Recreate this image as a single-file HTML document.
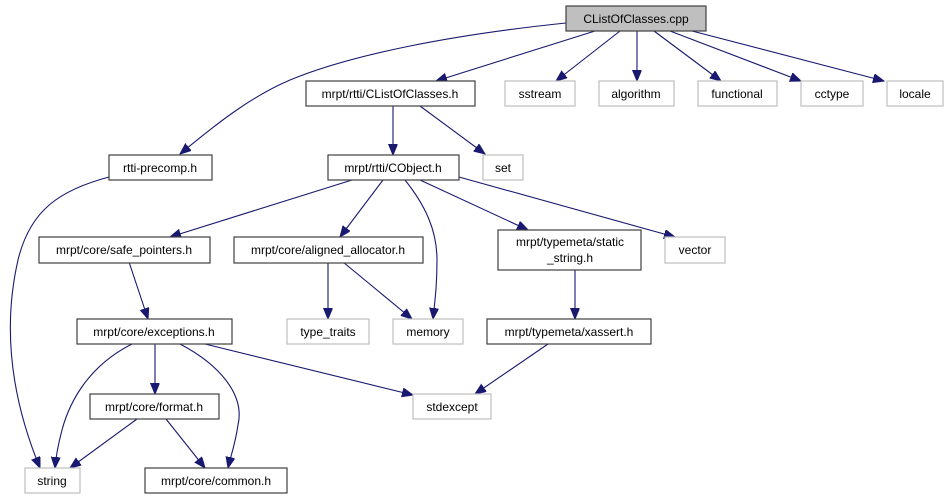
<!DOCTYPE html>
<html><head><meta charset="utf-8"><style>
html,body{margin:0;padding:0;background:#fff;}
svg{display:block;}
text{font-family:"Liberation Sans",sans-serif;font-size:12px;fill:#000;text-anchor:middle;}
.n rect{fill:#fff;stroke:#404040;stroke-width:1.2;}
.g rect{fill:#fff;stroke:#bfbfbf;stroke-width:1.2;}
path.e{fill:none;stroke:#191970;stroke-width:1.1;marker-end:url(#a);}
</style></head><body>
<svg width="949" height="500" viewBox="0 0 949 500" xmlns="http://www.w3.org/2000/svg">
<defs><marker id="a" markerUnits="userSpaceOnUse" markerWidth="12" markerHeight="10" refX="11" refY="4.5" orient="auto"><path d="M0,0 L11,4.5 L0,9 z" fill="#191970" stroke="#191970"/></marker></defs>
<path class="e" d="M566,23 C450,35 350,55 290,80 C250,97 215,125 180,154"/>
<path class="e" d="M595,31 L436,81"/>
<path class="e" d="M620,31 L556,81"/>
<path class="e" d="M637,31 L637,81"/>
<path class="e" d="M654,31 L721,81"/>
<path class="e" d="M670,31 L801,81"/>
<path class="e" d="M692,31 L884,81"/>
<path class="e" d="M393,106 L393,155"/>
<path class="e" d="M420,106 L485,154"/>
<path class="e" d="M109,177 C60,190 30,210 18,260 C2,330 12,400 40,468"/>
<path class="e" d="M352,180 L170,237"/>
<path class="e" d="M383,180 L340,237"/>
<path class="e" d="M405,180 C425,205 437,230 437,260 C437,285 435,300 433,319"/>
<path class="e" d="M420,180 L528,230"/>
<path class="e" d="M459,177 L675,237"/>
<path class="e" d="M129,262 L148,319"/>
<path class="e" d="M328,262 L328,319"/>
<path class="e" d="M343,262 L412,319"/>
<path class="e" d="M575,270 L575,319"/>
<path class="e" d="M548,344 L475,394"/>
<path class="e" d="M132,344 C90,365 70,400 62,430 C58,445 56,455 55,468"/>
<path class="e" d="M155,344 L155,394"/>
<path class="e" d="M180,344 C220,365 245,395 238,425 C235,445 231,455 228,468"/>
<path class="e" d="M205,344 L413,395"/>
<path class="e" d="M137,419 L70,468"/>
<path class="e" d="M166,419 L205,468"/>

<g class="n"><rect x="566" y="6" width="140" height="25" style="fill:#bfbfbf"/><text x="636" y="23">CListOfClasses.cpp</text></g>
<g class="n"><rect x="306" y="81" width="169" height="25"/><text x="390" y="98">mrpt/rtti/CListOfClasses.h</text></g>
<g class="g"><rect x="505" y="81" width="70" height="25"/><text x="540" y="98">sstream</text></g>
<g class="g"><rect x="599" y="81" width="75" height="25"/><text x="636" y="98">algorithm</text></g>
<g class="g"><rect x="698" y="81" width="79" height="25"/><text x="737" y="98">functional</text></g>
<g class="g"><rect x="801" y="81" width="62" height="25"/><text x="832" y="98">cctype</text></g>
<g class="g"><rect x="887" y="81" width="56" height="25"/><text x="915" y="98">locale</text></g>
<g class="n"><rect x="109" y="155" width="103" height="25"/><text x="160" y="172">rtti-precomp.h</text></g>
<g class="n"><rect x="328" y="155" width="131" height="25"/><text x="393" y="172">mrpt/rtti/CObject.h</text></g>
<g class="g"><rect x="483" y="155" width="40" height="25"/><text x="503" y="172">set</text></g>
<g class="n"><rect x="39" y="237" width="171" height="26"/><text x="124" y="254">mrpt/core/safe_pointers.h</text></g>
<g class="n"><rect x="234" y="237" width="189" height="26"/><text x="328" y="254">mrpt/core/aligned_allocator.h</text></g>
<g class="n"><rect x="498" y="230" width="143" height="40"/><text x="570" y="246">mrpt/typemeta/static</text><text x="570" y="262">_string.h</text></g>
<g class="g"><rect x="665" y="237" width="60" height="26"/><text x="695" y="254">vector</text></g>
<g class="n"><rect x="77" y="319" width="155" height="25"/><text x="154" y="336">mrpt/core/exceptions.h</text></g>
<g class="g"><rect x="287" y="319" width="82" height="25"/><text x="328" y="336">type_traits</text></g>
<g class="g"><rect x="393" y="319" width="70" height="25"/><text x="428" y="336">memory</text></g>
<g class="n"><rect x="487" y="319" width="164" height="25"/><text x="569" y="336">mrpt/typemeta/xassert.h</text></g>
<g class="n"><rect x="90" y="394" width="129" height="25"/><text x="154" y="411">mrpt/core/format.h</text></g>
<g class="g"><rect x="413" y="394" width="78" height="25"/><text x="452" y="411">stdexcept</text></g>
<g class="g"><rect x="25" y="468" width="55" height="25"/><text x="52" y="485">string</text></g>
<g class="n"><rect x="145" y="468" width="142" height="25"/><text x="216" y="485">mrpt/core/common.h</text></g>
</svg>
</body></html>
